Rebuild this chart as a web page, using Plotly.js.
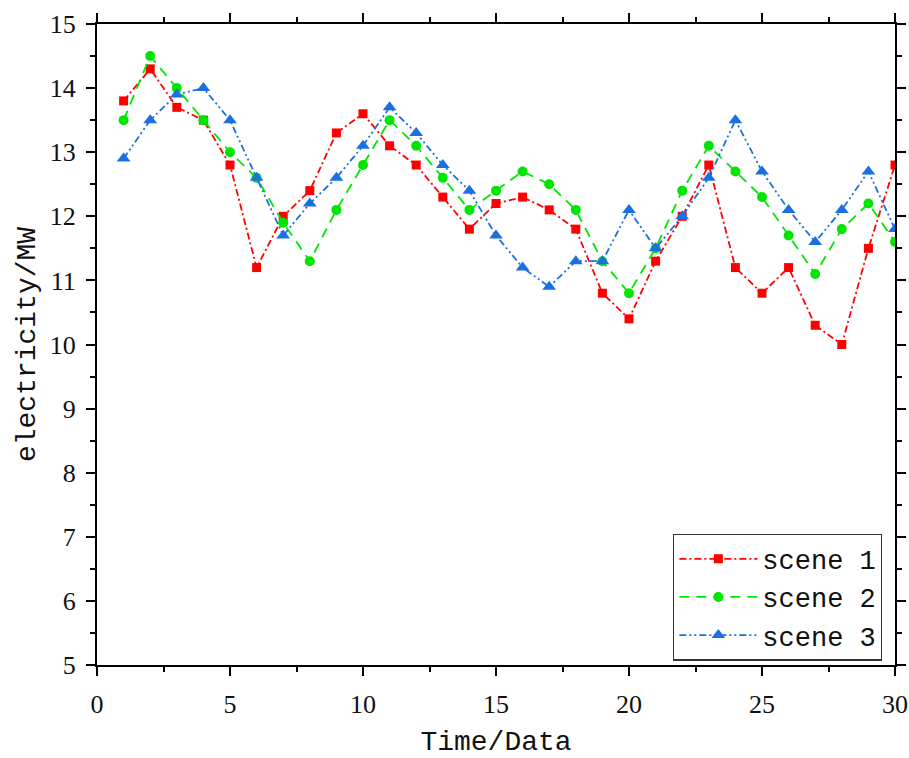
<!DOCTYPE html>
<html>
<head>
<meta charset="utf-8">
<script src="https://cdn.plot.ly/plotly-3.0.1.min.js"></script>
<style>html,body{margin:0;padding:0;background:#fff;}#chart{width:909px;height:758px;}</style>
</head>
<body>
<div id="chart"></div>
<script>
const timeIdx = [1,2,3,4,5,6,7,8,9,10,11,12,13,14,15,16,17,18,19,20,21,22,23,24,25,26,27,28,29,30];
const scene1 = [13.8,14.3,13.7,13.5,12.8,11.2,12.0,12.4,13.3,13.6,13.1,12.8,12.3,11.8,12.2,12.3,12.1,11.8,10.8,10.4,11.3,12.0,12.8,11.2,10.8,11.2,10.3,10.0,11.5,12.8];
const scene2 = [13.5,14.5,14.0,13.5,13.0,12.6,11.9,11.3,12.1,12.8,13.5,13.1,12.6,12.1,12.4,12.7,12.5,12.1,11.3,10.8,11.5,12.4,13.1,12.7,12.3,11.7,11.1,11.8,12.2,11.6];
const scene3 = [12.9,13.5,13.9,14.0,13.5,12.6,11.7,12.2,12.6,13.1,13.7,13.3,12.8,12.4,11.7,11.2,10.9,11.3,11.3,12.1,11.5,12.0,12.6,13.5,12.7,12.1,11.6,12.1,12.7,11.8];
const names = ['scene 1','scene 2','scene 3'];

const traces = [
  {x: timeIdx, y: scene1, name: names[0], type: 'scatter', mode: 'lines+markers',
   line: {color: '#ff0000', width: 1.8, dash: '7px,3px,2px,3px'},
   marker: {symbol: 'square', size: 9, color: '#ff0000'}},
  {x: timeIdx, y: scene2, name: names[1], type: 'scatter', mode: 'lines+markers',
   line: {color: '#00e600', width: 1.8, dash: '10px,7px'},
   marker: {symbol: 'circle', size: 10, color: '#00e600'}},
  {x: timeIdx, y: scene3, name: names[2], type: 'scatter', mode: 'lines+markers',
   line: {color: '#1a70e0', width: 1.8, dash: '7px,3px,2px,3px,2px,3px'},
   marker: {symbol: 'triangle-up', size: 12, color: '#1a70e0'}}
];

const tickFont = {family: 'Liberation Serif, serif', size: 26, color: '#111'};
const axisCommon = {
  showline: true, linecolor: '#000', linewidth: 2, mirror: 'allticks',
  ticks: 'outside', ticklen: 9, tickwidth: 2, tickcolor: '#000',
  showgrid: false, zeroline: false, tickfont: tickFont
};

const layout = {
  width: 909, height: 758,
  margin: {l: 97, r: 14, t: 24, b: 93},
  paper_bgcolor: '#fff', plot_bgcolor: '#fff',
  showlegend: true,
  legend: {
    x: 0.722, y: 0.205, xanchor: 'left', yanchor: 'top',
    bgcolor: '#fff', bordercolor: '#333', borderwidth: 1.2,
    font: {family: 'Liberation Mono, monospace', size: 27, color: '#111'},
    tracegroupgap: 0, itemwidth: 78
  },
  xaxis: Object.assign({}, axisCommon, {
    range: [0, 30], tickmode: 'linear', tick0: 0, dtick: 5,
    ticklabelstandoff: 6,
    minor: {dtick: 2.5, ticks: 'outside', ticklen: 5, tickwidth: 2, tickcolor: '#000'},
    title: {text: 'Time/Data', font: {family: 'Liberation Mono, monospace', size: 28, color: '#111'}, standoff: 16}
  }),
  yaxis: Object.assign({}, axisCommon, {
    range: [5, 15], tickmode: 'linear', tick0: 5, dtick: 1,
    ticklabelstandoff: 5,
    minor: {dtick: 0.5, ticks: 'outside', ticklen: 5, tickwidth: 2, tickcolor: '#000'},
    title: {text: 'electricity/MW', font: {family: 'Liberation Mono, monospace', size: 28, color: '#111'}, standoff: 6}
  })
};

Plotly.newPlot('chart', traces, layout, {displayModeBar: false, staticPlot: true});
</script>
</body>
</html>
